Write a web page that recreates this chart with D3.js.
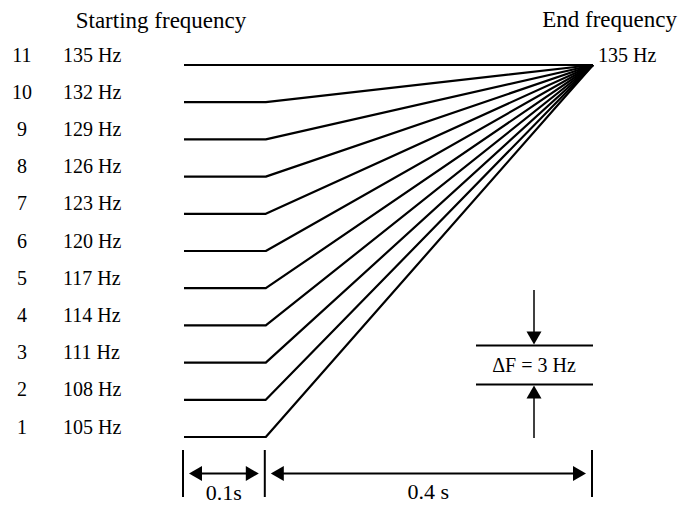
<!DOCTYPE html>
<html>
<head>
<meta charset="utf-8">
<script src="https://cdn.jsdelivr.net/npm/d3@7/dist/d3.min.js"></script>
<style>
  body { margin: 0; background: #fff; }
  text { font-family: "Liberation Serif", "Times New Roman", serif; fill: #000; }
</style>
</head>
<body>
<div id="chart"></div>
<script>
// sweep data: index, start frequency (Hz), all ending at 135 Hz
const sweepIds = [1, 2, 3, 4, 5, 6, 7, 8, 9, 10, 11];
const startFreqs = [105, 108, 111, 114, 117, 120, 123, 126, 129, 132, 135];
const endFreq = 135;
const holdTime = 0.1;   // s at start frequency
const sweepTime = 0.4;  // s to reach end frequency
const deltaF = 3;

const width = 681, height = 506;

const svg = d3.select("#chart")
  .append("svg")
    .attr("width", width)
    .attr("height", height);

// time -> x, frequency -> y
const x = d3.scaleLinear()
  .domain([0, holdTime + sweepTime])
  .range([184, 593]);

const y = d3.scaleLinear()
  .domain([105, 135])
  .range([437, 65]);

const line = d3.line()
  .x(d => x(d.t))
  .y(d => y(d.f));

const sweeps = startFreqs.map((f, i) => ({
  id: sweepIds[i],
  f: f,
  pts: [{t: 0, f: f}, {t: holdTime, f: f}, {t: holdTime + sweepTime, f: endFreq}]
}));

// sweep lines
svg.append("g")
  .selectAll("path")
  .data(sweeps)
  .enter().append("path")
    .attr("d", d => line(d.pts))
    .attr("fill", "none")
    .attr("stroke", "#000")
    .attr("stroke-width", 2.2)
    .attr("stroke-linejoin", "round");

// left labels
const labels = svg.append("g")
  .selectAll("g")
  .data(sweeps)
  .enter().append("g")
    .attr("transform", d => `translate(0,${y(d.f) - 3.5})`);

labels.append("text")
  .attr("x", 22)
  .attr("text-anchor", "middle")
  .style("font-size", "20px")
  .text(d => d.id);

labels.append("text")
  .attr("x", 63)
  .style("font-size", "20px")
  .text(d => d.f + " Hz");

// headings
svg.append("text")
  .attr("x", 161).attr("y", 28)
  .attr("text-anchor", "middle")
  .style("font-size", "23px")
  .text("Starting frequency");

svg.append("text")
  .attr("x", 677).attr("y", 27)
  .attr("text-anchor", "end")
  .style("font-size", "23px")
  .text("End frequency");

svg.append("text")
  .attr("x", 598).attr("y", y(endFreq) - 3)
  .style("font-size", "20px")
  .text(endFreq + " Hz");

// arrowhead helper: tip at (tx,ty), pointing in direction dir
function arrowHead(g, tx, ty, dir) {
  const len = 13, half = 7.5;
  let pts;
  if (dir === "down") pts = [[tx, ty], [tx - half, ty - len], [tx + half, ty - len]];
  if (dir === "up") pts = [[tx, ty], [tx - half, ty + len], [tx + half, ty + len]];
  if (dir === "left") pts = [[tx, ty], [tx + len, ty - half], [tx + len, ty + half]];
  if (dir === "right") pts = [[tx, ty], [tx - len, ty - half], [tx - len, ty + half]];
  g.append("path")
    .attr("d", "M" + pts.map(p => p.join(",")).join("L") + "Z")
    .attr("fill", "#000");
}

// delta F marker
const dfg = svg.append("g");
const dfx = 534;
const yTop = 345.5, yBot = 384.5;
dfg.append("line").attr("x1", 476).attr("x2", 593).attr("y1", yTop).attr("y2", yTop)
  .attr("stroke", "#000").attr("stroke-width", 2);
dfg.append("line").attr("x1", 476).attr("x2", 593).attr("y1", yBot).attr("y2", yBot)
  .attr("stroke", "#000").attr("stroke-width", 2);
dfg.append("line").attr("x1", dfx).attr("x2", dfx).attr("y1", 290).attr("y2", yTop - 10)
  .attr("stroke", "#000").attr("stroke-width", 1.5);
dfg.append("line").attr("x1", dfx).attr("x2", dfx).attr("y1", yBot + 10).attr("y2", 438)
  .attr("stroke", "#000").attr("stroke-width", 1.5);
arrowHead(dfg, dfx, yTop - 1, "down");
arrowHead(dfg, dfx, yBot + 1, "up");
dfg.append("text")
  .attr("x", dfx).attr("y", 372)
  .attr("text-anchor", "middle")
  .style("font-size", "20px")
  .text("\u0394F = " + deltaF + " Hz");

// time dimension markers
const tg = svg.append("g");
const ticksT = [0, holdTime, holdTime + sweepTime];
tg.selectAll("line.tick")
  .data(ticksT)
  .enter().append("line")
    .attr("class", "tick")
    .attr("x1", d => x(d) - 1).attr("x2", d => x(d) - 1)
    .attr("y1", 450).attr("y2", 497)
    .attr("stroke", "#000").attr("stroke-width", 2);

const arrowY = 473.5;
const spans = [
  {a: 0, b: holdTime, label: "0.1s", ty: 500},
  {a: holdTime, b: holdTime + sweepTime, label: "0.4 s", ty: 499}
];
spans.forEach(s => {
  const x1 = x(s.a) + 5, x2 = x(s.b) - 7;
  tg.append("line").attr("x1", x1 + 10).attr("x2", x2 - 10)
    .attr("y1", arrowY).attr("y2", arrowY)
    .attr("stroke", "#000").attr("stroke-width", 2);
  arrowHead(tg, x1, arrowY, "left");
  arrowHead(tg, x2, arrowY, "right");
  tg.append("text")
    .attr("x", (x(s.a) + x(s.b)) / 2 - 1).attr("y", s.ty)
    .attr("text-anchor", "middle")
    .style("font-size", "22px")
    .text(s.label);
});
</script>
</body>
</html>
